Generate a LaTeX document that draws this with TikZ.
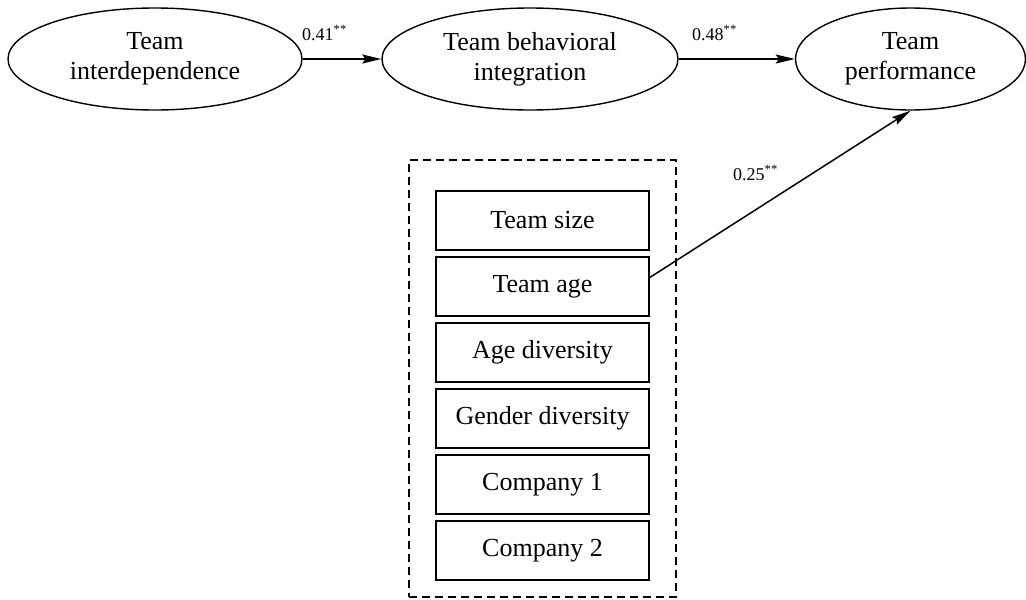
\documentclass[tikz,border=0pt]{standalone}
\usepackage{fontspec}
\setmainfont{Liberation Serif}
\usetikzlibrary{shapes.geometric,arrows.meta}
\begin{document}
\begin{tikzpicture}[x=1pt,y=-1pt,
  every node/.style={font=\fontsize{26}{30}\selectfont},
  latent/.style={ellipse,draw,line width=1.4pt,inner sep=0pt,minimum height=102pt,align=center},
  ctrlbox/.style={rectangle,draw,line width=1.5pt,minimum width=213pt,minimum height=59pt,inner sep=0pt},
  coef/.style={font=\fontsize{18}{20}\selectfont,inner sep=0pt,anchor=base west},
  path/.style={line width=1.5pt,-{Stealth[length=19pt,width=9pt,inset=3pt]}}
]
\useasboundingbox (0,0) rectangle (1026,600);
\node[latent,minimum width=294pt] (inter) at (155,59) {Team\\interdependence};
\node[latent,minimum width=296pt] (integ) at (530,59) {Team behavioral\\integration};
\node[latent,minimum width=230pt] (perf) at (910.5,59) {Team\\performance};
\node[rectangle,draw,dashed,dash pattern=on 8pt off 5pt,line width=1.5pt,minimum width=267pt,minimum height=437pt,inner sep=0pt] (ctrl) at (542.5,378.5) {};
\node[ctrlbox] (size) at (542.5,220.5) {Team size};
\node[ctrlbox] (age) at (542.5,286.5) {Team age};
\node[ctrlbox] (agediv) at (542.5,352.5) {Age diversity};
\node[ctrlbox] (gender) at (542.5,418.5) {Gender diversity};
\node[ctrlbox] (comp1) at (542.5,484.5) {Company 1};
\node[ctrlbox] (comp2) at (542.5,550.5) {Company 2};
\draw[path] (inter.east) -- (integ.west);
\draw[path] (integ.east) -- (perf.west);
\draw[path] ([yshift=9pt]age.east) -- (perf.south);
\node[coef] (c1) at (302,40) {0.41\textsuperscript{**}};
\node[coef] (c2) at (692,40) {0.48\textsuperscript{**}};
\node[coef] (c3) at (733,180) {0.25\textsuperscript{**}};
\end{tikzpicture}
\end{document}
